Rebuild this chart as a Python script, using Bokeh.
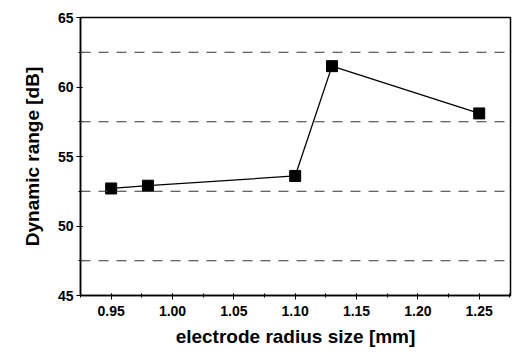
from bokeh.plotting import figure
from bokeh.models import Span, Range1d, FixedTicker
from bokeh.embed import file_html
from bokeh.resources import INLINE

# electrode radius (mm) vs dynamic range (dB)
radius = [0.95, 0.98, 1.10, 1.13, 1.25]
dyn_range = [52.7, 52.9, 53.6, 61.5, 58.1]
x_ticks = [0.95, 1.00, 1.05, 1.10, 1.15, 1.20, 1.25]
y_ticks = [45, 50, 55, 60, 65]
ref_levels = [47.5, 52.5, 57.5, 62.5]

FONT = "Liberation Sans"

p = figure(width=512, height=356, output_backend="svg", toolbar_location=None,
           x_range=Range1d(0.925, 1.2755), y_range=Range1d(45, 65),
           min_border_left=80, min_border_right=2, min_border_top=17, min_border_bottom=61)

p.background_fill_color = "white"
p.border_fill_color = "white"
p.outline_line_color = "black"
p.outline_line_width = 1.5
p.xgrid.visible = False
p.ygrid.visible = False

for lv in ref_levels:
    p.add_layout(Span(location=lv, dimension="width", line_color="#333333",
                      line_dash="10 8", line_width=1))

p.line(radius, dyn_range, line_color="black", line_width=1.3)
p.scatter(radius, dyn_range, marker="square", size=11, fill_color="black", line_color="black")

for ax in (p.xaxis, p.yaxis):
    ax.axis_line_width = 1.5
    ax.axis_line_color = "black"
    ax.major_tick_line_color = "black"
    ax.minor_tick_line_color = "black"
    ax.major_tick_in = 2
    ax.major_tick_out = 4
    ax.minor_tick_in = 2
    ax.minor_tick_out = 2
    ax.major_label_text_font = FONT
    ax.major_label_text_font_style = "bold"
    ax.major_label_text_font_size = "14px"
    ax.major_label_text_color = "black"
    ax.axis_label_text_font = FONT
    ax.axis_label_text_font_style = "bold"
    ax.axis_label_text_font_size = "19px"
    ax.axis_label_text_color = "black"

p.xaxis.ticker = FixedTicker(ticks=x_ticks,
                             minor_ticks=[0.925 + 0.025 * i for i in range(15)])
p.yaxis.ticker = FixedTicker(ticks=y_ticks, minor_ticks=[45 + 2.5 * i for i in range(9)])
p.xaxis.major_label_overrides = {t: f"{t:.2f}" for t in x_ticks}
p.xaxis.axis_label = "electrode radius size [mm]"
p.yaxis.axis_label = "Dynamic range [dB]"
p.xaxis.axis_label_standoff = 7
p.yaxis.axis_label_standoff = 12
p.xaxis.major_label_standoff = 6
p.yaxis.major_label_standoff = 3

open("out.html", "w").write(file_html(p, INLINE))
